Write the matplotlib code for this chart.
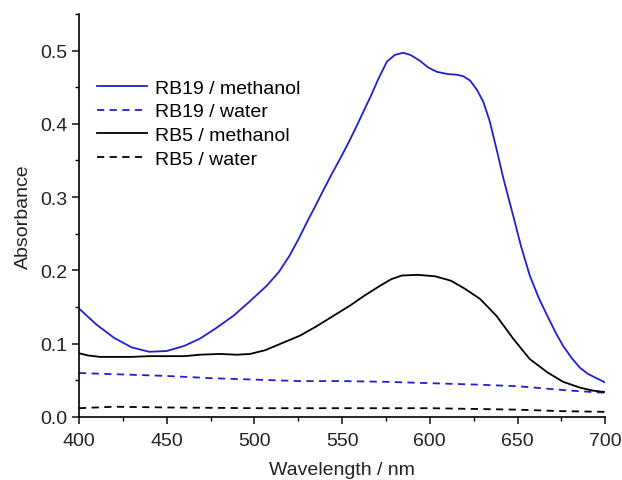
import matplotlib
matplotlib.use("Agg")
import matplotlib.pyplot as plt
from matplotlib.ticker import MultipleLocator, FormatStrFormatter

plt.rcParams['font.family'] = ['Liberation Sans', 'DejaVu Sans']

wl_rb19_meoh = [400, 410, 420, 430, 440, 450, 460, 469, 478, 488, 497, 507, 514, 520, 525, 530, 535, 539, 544, 549, 554, 558.5, 562, 566, 571, 575.6, 580, 584.8, 589, 594.4, 599, 604, 610, 615.5, 619, 623, 627, 630.5, 634, 638, 642, 647.5, 652, 657, 662, 667, 672, 676, 681, 685.7, 690, 695, 700]
abs_rb19_meoh = [0.148, 0.126, 0.108, 0.095, 0.089, 0.090, 0.097, 0.107, 0.121, 0.138, 0.157, 0.179, 0.198, 0.220, 0.242, 0.266, 0.289, 0.308, 0.331, 0.353, 0.376, 0.398, 0.416, 0.436, 0.463, 0.485, 0.494, 0.497, 0.494, 0.486, 0.477, 0.471, 0.468, 0.467, 0.465, 0.459, 0.446, 0.430, 0.405, 0.366, 0.325, 0.275, 0.233, 0.193, 0.163, 0.138, 0.114, 0.097, 0.080, 0.067, 0.059, 0.053, 0.047]

wl_rb5_meoh = [400, 405, 412, 420, 430, 440, 450, 460, 469, 480, 490, 497.5, 506, 516, 526, 535.6, 545, 554.5, 563, 571.6, 578, 584, 593, 603, 612, 620, 628.7, 638, 647.5, 657, 667, 676, 685.7, 693, 700]
abs_rb5_meoh = [0.087, 0.084, 0.082, 0.082, 0.082, 0.083, 0.083, 0.083, 0.085, 0.086, 0.085, 0.086, 0.091, 0.101, 0.111, 0.124, 0.138, 0.152, 0.166, 0.179, 0.188, 0.193, 0.194, 0.192, 0.186, 0.175, 0.161, 0.138, 0.107, 0.079, 0.061, 0.048, 0.040, 0.036, 0.034]

wl_rb19_water = [400, 425, 450, 475, 500, 526, 550, 575, 602, 629, 650, 665, 680, 700]
abs_rb19_water = [0.060, 0.058, 0.056, 0.053, 0.051, 0.049, 0.049, 0.048, 0.046, 0.044, 0.042, 0.039, 0.036, 0.033]

wl_rb5_water = [400, 410, 420, 450, 500, 550, 600, 625, 650, 675, 700]
abs_rb5_water = [0.012, 0.013, 0.014, 0.013, 0.012, 0.012, 0.012, 0.011, 0.010, 0.008, 0.007]

fig = plt.figure(figsize=(6.22, 4.81), dpi=100)
ax = fig.add_axes([0.127, 0.131, 0.846, 0.838])

blue = '#2020d0'
ax.plot(wl_rb19_meoh, abs_rb19_meoh, color=blue, lw=1.3, label='RB19 / methanol')
ax.plot(wl_rb19_water, abs_rb19_water, color=blue, lw=1.3, ls=(0, (4, 3)), label='RB19 / water')
ax.plot(wl_rb5_meoh, abs_rb5_meoh, color='black', lw=1.3, label='RB5 / methanol')
ax.plot(wl_rb5_water, abs_rb5_water, color='black', lw=1.3, ls=(0, (4, 3)), label='RB5 / water')

ax.set_xlim(400, 700)
ax.set_ylim(0, 0.55)
ax.xaxis.set_major_locator(MultipleLocator(50))
ax.xaxis.set_minor_locator(MultipleLocator(25))
ax.yaxis.set_major_locator(MultipleLocator(0.1))
ax.yaxis.set_minor_locator(MultipleLocator(0.05))
ax.yaxis.set_major_formatter(FormatStrFormatter('%.1f'))
for s in ['top', 'right']:
    ax.spines[s].set_visible(False)
for s in ['left', 'bottom']:
    ax.spines[s].set_linewidth(1.2)
ax.tick_params(which='major', direction='out', length=5, width=1.2, labelsize=14, colors='#222222')
ax.tick_params(axis='x', which='major', pad=5.5)
ax.tick_params(which='minor', direction='out', length=3, width=1.0)
ax.set_xlabel('Wavelength / nm', fontsize=14, color='#222222', labelpad=9)
ax.set_ylabel('Absorbance', fontsize=14, color='#222222', labelpad=6)

ax.legend(loc='upper left', bbox_to_anchor=(0.019, 0.858), frameon=False, fontsize=14,
          handlelength=2.6, handletextpad=0.4, labelspacing=0.32, borderaxespad=0)

fig.savefig('out.png', dpi=100)
